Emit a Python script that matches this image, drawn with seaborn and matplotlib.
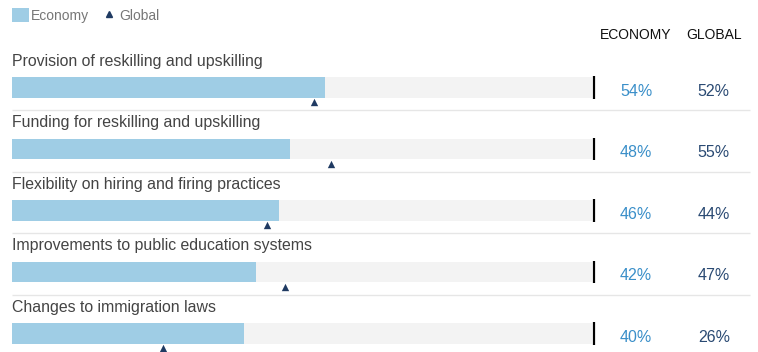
import matplotlib
matplotlib.use('Agg')
import matplotlib.pyplot as plt
import seaborn as sns
import pandas as pd
from matplotlib.patches import Patch
from matplotlib.lines import Line2D

# Chart data
measures = [
    'Provision of reskilling and upskilling',
    'Funding for reskilling and upskilling',
    'Flexibility on hiring and firing practices',
    'Improvements to public education systems',
    'Changes to immigration laws',
]
economy = [54, 48, 46, 42, 40]
global_avg = [52, 55, 44, 47, 26]

BAR = '#9fcde5'
TRACK = '#f3f3f3'
NAVY = '#1f3a62'
ECO_TXT = '#3a8fc9'
GLB_TXT = '#2a4a73'
LABEL = '#444444'

df = pd.DataFrame({'measure': measures, 'economy': economy, 'global': global_avg})
df['full'] = 100
df['pos'] = range(len(df))

sns.set_style('white')
plt.rcParams['font.family'] = ['Liberation Sans', 'DejaVu Sans']

fig = plt.figure(figsize=(7.58, 3.52), dpi=100)
# 0..100 % spans pixels 12..592
ax = fig.add_axes([12 / 758, 0, 580 / 758, 1])

bar_h = 0.34
sns.barplot(data=df, y='measure', x='full', color=TRACK, width=bar_h,
            orient='h', ax=ax, saturation=1, linewidth=0)
sns.barplot(data=df, y='measure', x='economy', color=BAR, width=bar_h,
            orient='h', ax=ax, saturation=1, linewidth=0)
sns.scatterplot(data=df.assign(ty=df['pos'] + 0.24), x='global', y='ty',
                marker='^', color=NAVY, s=28, linewidth=0, ax=ax, zorder=5)

ax.set_xlim(0, 100)
ax.set_ylim(4.301, -1.423)
ax.axis('off')

for i, row in df.iterrows():
    ax.text(0, i - 0.43, row['measure'], ha='left', va='center',
            fontsize=11.4, color=LABEL, clip_on=False)
    ax.text(107.6, i + 0.06, f"{row['economy']}%", ha='center', va='center',
            fontsize=11.5, color=ECO_TXT, clip_on=False)
    ax.text(121.0, i + 0.06, f"{row['global']}%", ha='center', va='center',
            fontsize=11.5, color=GLB_TXT, clip_on=False)
    ax.vlines(100.3, i - 0.18, i + 0.18, color='black', lw=1.6, clip_on=False)
    if i < len(df) - 1:
        ax.hlines(i + 0.366, 0, 127.2, color='#e6e6e6', lw=1, clip_on=False)

ax.text(107.6, -0.854, 'ECONOMY', ha='center', va='center', fontsize=10,
        color='#111111', clip_on=False)
ax.text(121.0, -0.854, 'GLOBAL', ha='center', va='center', fontsize=10,
        color='#111111', clip_on=False)

handles = [Patch(facecolor=BAR, edgecolor='none', label='Economy'),
           Line2D([], [], marker='^', ls='', color=NAVY, markersize=4,
                  label='Global')]
fig.legend(handles=handles, loc='upper left',
           bbox_to_anchor=(1.5 / 758, 1 + 2 / 352),
           ncol=2, frameon=False, fontsize=10, labelcolor='#777777',
           handlelength=1.2, handleheight=1.15, handletextpad=0.15,
           columnspacing=0.84, borderaxespad=0.35)

fig.savefig('out.png', dpi=100)
